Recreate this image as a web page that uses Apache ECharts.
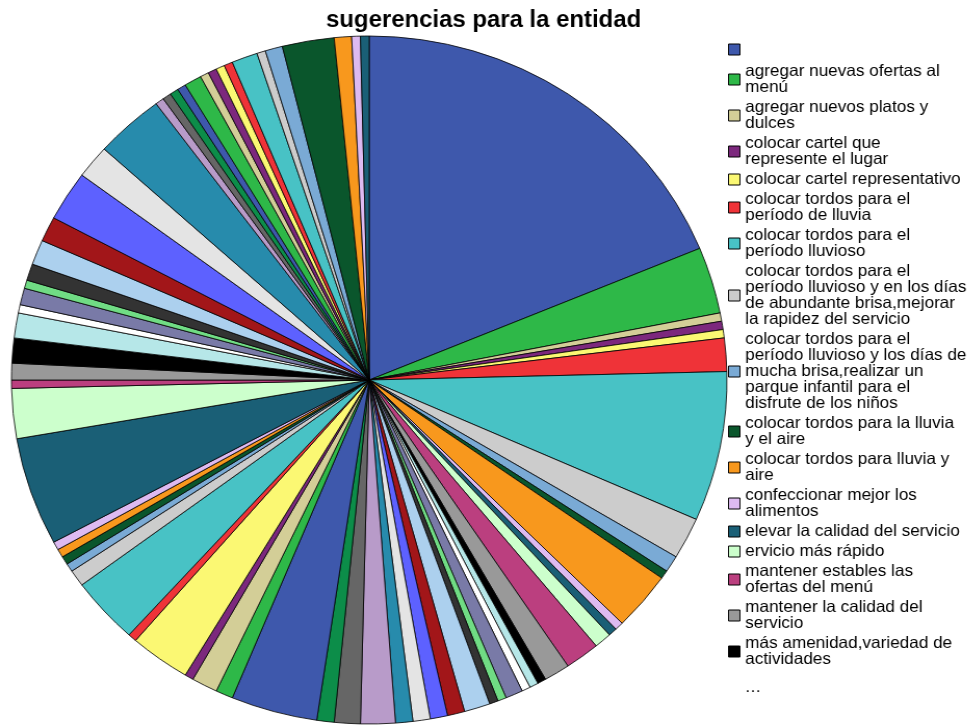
<!DOCTYPE html>
<html>
<head>
<meta charset="utf-8">
<script src="https://cdn.jsdelivr.net/npm/echarts@6/dist/echarts.min.js"></script>
<style>
  html, body { margin: 0; padding: 0; background: #fff; overflow: hidden; }
  /* the chart is laid out on a 930px canvas and widened to the 967px window */
  #chart { width: 930px; height: 725px; transform: scaleX(1.04); transform-origin: 0 0; }
</style>
</head>
<body>
<div id="chart"></div>
<script>
// Category names (first entry is the blank answer)
const categories = [
  ' ',
  'agregar nuevas ofertas al menú',
  'agregar nuevos platos y dulces',
  'colocar cartel que represente el lugar',
  'colocar cartel representativo',
  'colocar tordos para el período de lluvia',
  'colocar tordos para el período lluvioso',
  'colocar tordos para el período lluvioso y en los días de abundante brisa,mejorar la rapidez del servicio',
  'colocar tordos para el período lluvioso y los días de mucha brisa,realizar un parque infantil para el disfrute de los niños',
  'colocar tordos para la lluvia y el aire',
  'colocar tordos para lluvia y aire',
  'confeccionar mejor los alimentos',
  'elevar la calidad del servicio',
  'ervicio más rápido',
  'mantener estables las ofertas del menú',
  'mantener la calidad del servicio',
  'más amenidad,variedad de actividades'
];
// further answers that the legend does not list
for (let i = categories.length + 1; i <= 73; i++) categories.push('sugerencia ' + i);

// Frequencies per answer, in category order
const counts = [
  48, 8, 1, 1, 1, 4, 18, 5, 2, 1, 7, 1, 1, 2, 4, 3, 1, 1, 1, 2, 1, 1, 3, 2, 2, 2, 2, 4, 3, 2,
  10, 2, 3, 1, 7, 1, 8, 2, 1, 1, 1, 1, 13, 6, 1, 2, 3, 3, 1, 2, 1, 2, 3, 3, 6, 4, 8, 1, 1, 1,
  1, 2, 1, 1, 1, 1, 3, 1, 2, 6, 2, 1, 1
];

// Wrapped legend texts for the listed answers
const legendLabels = [
  ' ',
  'agregar nuevas ofertas al\nmenú',
  'agregar nuevos platos y\ndulces',
  'colocar cartel que\nrepresente el lugar',
  'colocar cartel representativo',
  'colocar tordos para el\nperíodo de lluvia',
  'colocar tordos para el\nperíodo lluvioso',
  'colocar tordos para el\nperíodo lluvioso y en los días\nde abundante brisa,mejorar\nla rapidez del servicio',
  'colocar tordos para el\nperíodo lluvioso y los días de\nmucha brisa,realizar un\nparque infantil para el\ndisfrute de los niños',
  'colocar tordos para la lluvia\ny el aire',
  'colocar tordos para lluvia y\naire',
  'confeccionar mejor los\nalimentos',
  'elevar la calidad del servicio',
  'ervicio más rápido',
  'mantener estables las\nofertas del menú',
  'mantener la calidad del\nservicio',
  'más amenidad,variedad de\nactividades'
];

const palette = [
  '#3E58AC', '#2EB848', '#D3CE97', '#7C287D', '#FBF873', '#EF3338', '#48C2C5', '#CCCCCC',
  '#7AAAD5', '#0A562C', '#F8981D', '#DDBAF1', '#1A5F76', '#CCFFCC', '#BB3F7F', '#999999',
  '#000000', '#B6E7E8', '#FFFFFF', '#797AA7', '#70DC84', '#333333', '#ACD0EE', '#A21619',
  '#5D61FF', '#E4E4E4', '#278BAC', '#B89BC9', '#666666', '#0C8D49'
];

const FONT = "'Liberation Sans', Arial, sans-serif";
const labelOf = {};
legendLabels.forEach((t, i) => { labelOf[categories[i]] = t; });

const chart = echarts.init(document.getElementById('chart'), null, { renderer: 'canvas' });
chart.setOption({
  animation: false,
  color: palette,
  title: {
    text: 'sugerencias para la entidad',
    left: 'center',
    top: 4,
    textStyle: { fontFamily: FONT, fontSize: 23, fontWeight: 'bold', color: '#000', lineHeight: 24 }
  },
  legend: {
    orient: 'vertical',
    left: 695,
    top: 34,
    itemWidth: 11,
    itemHeight: 11,
    itemGap: 3,
    icon: 'rect',
    selectedMode: false,
    itemStyle: { borderColor: '#000', borderWidth: 1 },
    textStyle: { fontFamily: FONT, fontSize: 16.5, lineHeight: 16, color: '#000' },
    formatter: name => labelOf[name],
    data: legendLabels.map((t, i) => i === 0
      ? { name: categories[0], textStyle: { lineHeight: 21 } }
      : { name: categories[i] })
  },
  graphic: [{
    type: 'text',
    left: 716,
    top: 680,
    style: { text: '…', font: '16px ' + FONT, fill: '#000' }
  }],
  series: [{
    type: 'pie',
    center: [355, 380],
    radius: 344,
    startAngle: 90,
    clockwise: true,
    avoidLabelOverlap: false,
    silent: true,
    label: { show: false },
    labelLine: { show: false },
    itemStyle: { borderColor: '#000', borderWidth: 0.8 },
    data: counts.map((v, i) => ({ name: categories[i], value: v }))
  }]
});
</script>
</body>
</html>
